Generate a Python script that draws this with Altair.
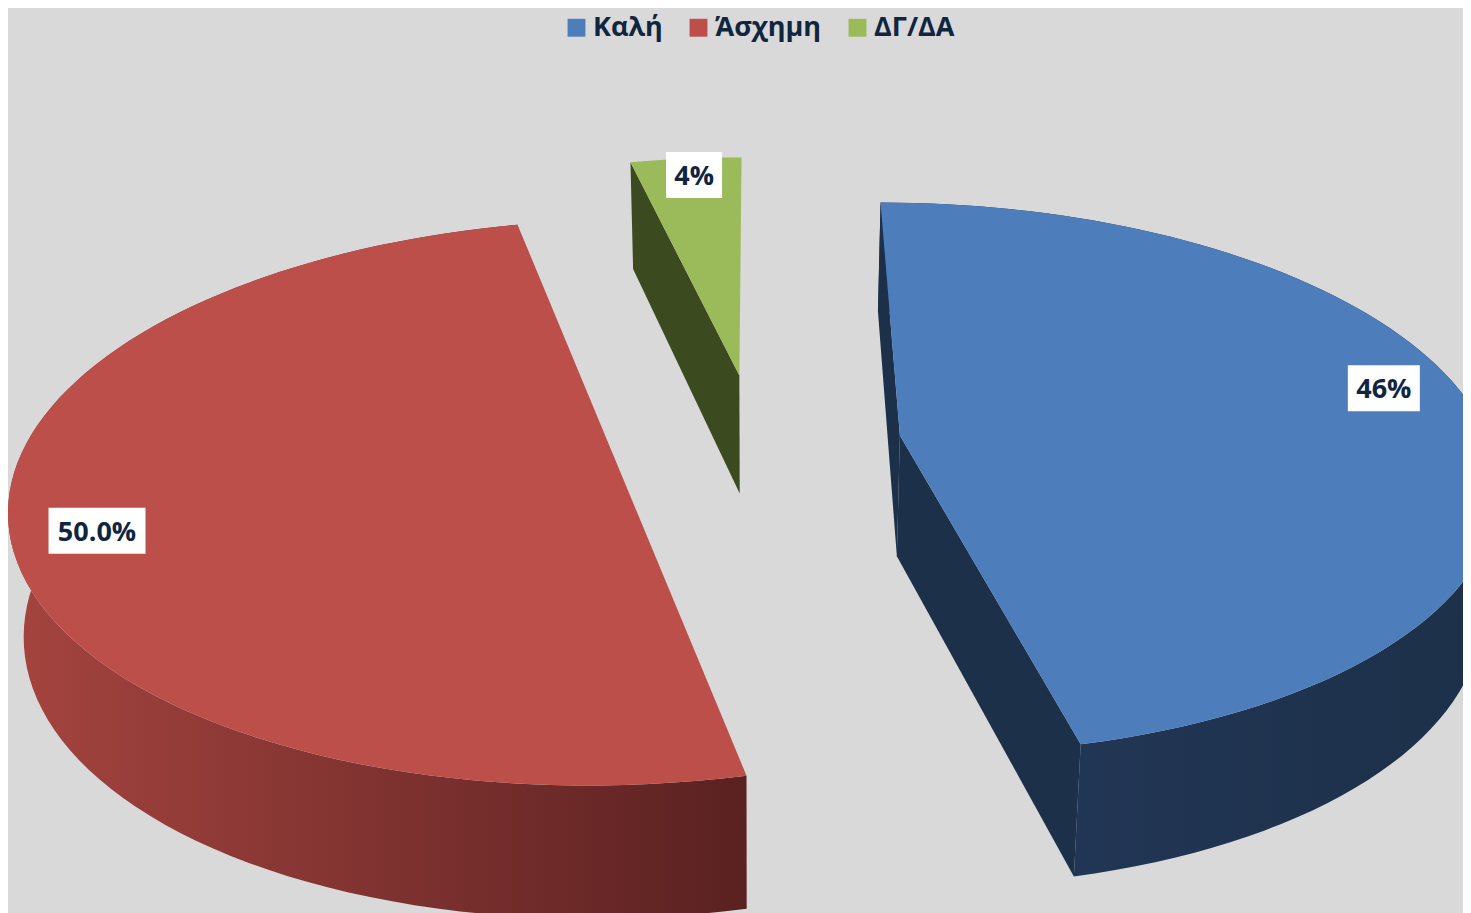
import math
import altair as alt
import pandas as pd

categories = ["Καλή", "Άσχημη", "ΔΓ/ΔΑ"]
values = [46.4, 50.0, 3.6]
value_labels = ["46%", "50.0%", "4%"]
top_colors = ["#4d7ebb", "#bd4f4b", "#9bba59"]

# Perspective view of an exploded disk (radius 1, seen from above)
CX, HORIZON, DEPTH_SCALE, WIDTH_SCALE, TILT = 756.0, -1300.0, 1743.0, 590.0, 0.1557
EXPLODE = [0.2465, 0.244, 0.26]
START_DEG = 0.0
LABEL_R = [0.845, 0.858, 0.93]
LABEL_NUDGE = [-22, 18, 3]
LABEL_NUDGE_X = [0, 0, 5]
LABEL_W = [72, 97, 56]
STEPS = 90
X_DOMAIN = [8, 1463]
Y_DOMAIN = [913, 8]


def project(u, v, bottom=False):
    d = 1 + TILT * v
    x = CX + WIDTH_SCALE * u / d
    y = HORIZON + DEPTH_SCALE / d
    if bottom:
        x = CX + (x - CX) * 0.979
        y += 121 + 75 * (1 - d)
    return x, y


slices = []
a0 = START_DEG
total = sum(values)
for v, e in zip(values, EXPLODE):
    a1 = a0 + 360 * v / total
    mid = math.radians((a0 + a1) / 2)
    slices.append((a0, a1, e * math.sin(mid), e * math.cos(mid), mid))
    a0 = a1

rows = []


def add(part, cat, pts):
    for i, (x, y) in enumerate(pts):
        rows.append({"part": part, "cat": cat, "i": i, "x": x, "y": y})


def rim(s, a, b, bottom=False):
    out = []
    for k in range(STEPS + 1):
        t = math.radians(a + (b - a) * k / STEPS)
        out.append(project(s[2] + math.sin(t), s[3] + math.cos(t), bottom))
    return out


for cat, s in zip(categories, slices):
    apex_t, apex_b = project(s[2], s[3]), project(s[2], s[3], True)
    top = rim(s, s[0], s[1])
    bot = rim(s, s[0], s[1], True)
    add("top", cat, [apex_t] + top)
    add("outer", cat, top + bot[::-1])
    add("edge0", cat, [apex_t, top[0], bot[0], apex_b])
    add("edge1", cat, [apex_t, top[-1], bot[-1], apex_b])

df = pd.DataFrame(rows)

lab = []
for cat, s, txt, r, n, nx, w in zip(categories, slices, value_labels, LABEL_R, LABEL_NUDGE, LABEL_NUDGE_X, LABEL_W):
    x, y = project(s[2] + r * math.sin(s[4]), s[3] + r * math.cos(s[4]))
    y += n
    x += nx
    lab.append({"cat": cat, "text": txt, "x": x, "y": y, "x0": x - w / 2, "x1": x + w / 2, "y0": y - 23, "y1": y + 23})
lab = pd.DataFrame(lab)

SX = alt.Scale(domain=X_DOMAIN, nice=False, zero=False)
SY = alt.Scale(domain=Y_DOMAIN, nice=False, zero=False)
X = alt.X("x:Q", scale=SX, axis=None)
Y = alt.Y("y:Q", scale=SY, axis=None)
O = alt.Order("i:Q")


def face(part, cat, fill):
    return (
        alt.Chart(df)
        .transform_filter(f"datum.part == '{part}' && datum.cat == '{cat}'")
        .mark_line(filled=True, interpolate="linear-closed", fill=fill, clip=True, strokeWidth=0)
        .encode(x=X, y=Y, order=O)
    )


def grad(c0, c1):
    return alt.Gradient(
        gradient="linear", x1=0, x2=1, y1=0, y2=0,
        stops=[alt.GradientStop(color=c0, offset=0), alt.GradientStop(color=c1, offset=1)],
    )


walls = [
    face("outer", categories[1], grad("#a5443f", "#5a2121")),
    face("outer", categories[0], grad("#24395a", "#1c3049")),
    face("edge0", categories[0], "#1c3049"),
    face("edge1", categories[0], "#1d3049"),
    face("edge0", categories[2], "#3c4a20"),
]

tops = (
    alt.Chart(df)
    .transform_filter("datum.part == 'top'")
    .mark_line(filled=True, interpolate="linear-closed", clip=True, strokeWidth=0)
    .encode(
        x=X, y=Y, order=O,
        color=alt.Color(
            "cat:N",
            scale=alt.Scale(domain=categories, range=top_colors),
            sort=categories,
            legend=alt.Legend(
                title=None, orient="none", direction="horizontal", legendX=555, legendY=6,
                symbolType="square", symbolSize=320, symbolStrokeWidth=0, columnPadding=22, labelOffset=3,
                labelFont="Open Sans", labelFontWeight="bold", labelFontSize=27, labelColor="#10253f",
                symbolOpacity=1,
            ),
        ),
    )
)

boxes = alt.Chart(lab).mark_rect(color="white").encode(
    x=alt.X("x0:Q", scale=SX, axis=None), x2="x1:Q",
    y=alt.Y("y0:Q", scale=SY, axis=None), y2="y1:Q",
)
texts = alt.Chart(lab).mark_text(
    font="Open Sans", fontWeight="bold", fontSize=27, color="#10253f", align="center", baseline="middle", dy=2
).encode(x=X, y=Y, text="text:N")

chart = (
    alt.layer(*walls, tops, boxes, texts)
    .properties(width=1455, height=905, padding=0, background="#d9d9d9")
    .configure_view(stroke=None)
)

chart.save("out.html", embed_options={"renderer": "svg", "actions": False})
